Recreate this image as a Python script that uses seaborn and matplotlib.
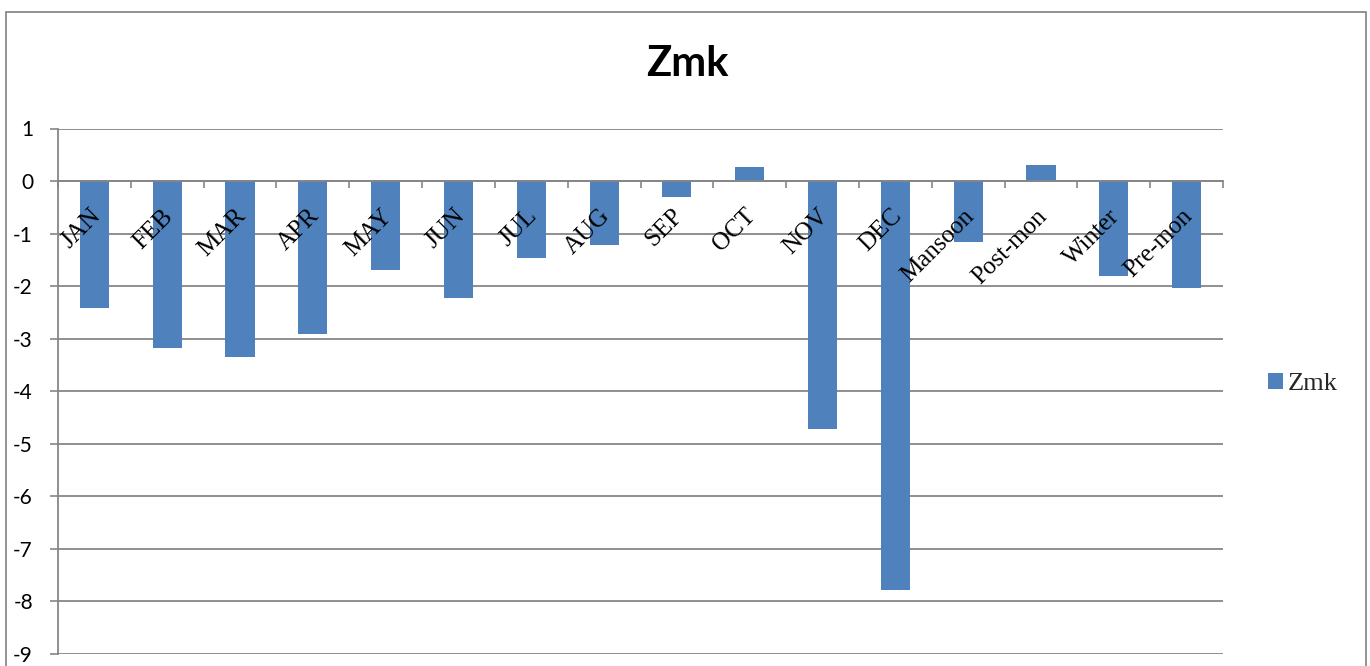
import matplotlib
matplotlib.use("Agg")
import matplotlib.pyplot as plt
from matplotlib.patches import Rectangle
from matplotlib.ticker import FixedLocator
from matplotlib.transforms import offset_copy
import seaborn as sns
import pandas as pd

# Zmk statistic per month and per season
categories = ["JAN", "FEB", "MAR", "APR", "MAY", "JUN", "JUL", "AUG", "SEP",
              "OCT", "NOV", "DEC", "Mansoon", "Post-mon", "Winter", "Pre-mon"]
zmk = [-2.41, -3.17, -3.34, -2.92, -1.70, -2.22, -1.47, -1.22, -0.31,
       0.27, -4.71, -7.78, -1.16, 0.30, -1.81, -2.04]
y_ticks = [1, 0, -1, -2, -3, -4, -5, -6, -7, -8, -9]

BAR = "#4F81BD"
GRID = "#868686"

sns.set_theme(style="white")
plt.rcParams["font.family"] = ["Lato", "DejaVu Sans"]

W, H = 1370, 666
fig = plt.figure(figsize=(W / 100, H / 100), dpi=100)
ax = fig.add_axes([58 / W, 12 / H, 1165 / W, 525.5 / H])

df = pd.DataFrame({"Period": categories, "Zmk": zmk})
sns.barplot(data=df, x="Period", y="Zmk", order=categories, color=BAR,
            saturation=1, width=0.4, label="Zmk", ax=ax, edgecolor="none")

ax.set_xlim(-0.5, len(categories) - 0.5)
ax.set_ylim(min(y_ticks), max(y_ticks))
ax.set_xlabel("")
ax.set_ylabel("")

# horizontal gridlines behind bars
ax.set_axisbelow(True)
ax.yaxis.set_major_locator(FixedLocator(y_ticks))
ax.yaxis.grid(True, color=GRID, linewidth=1.3)
ax.xaxis.grid(False)
ax.set_yticklabels([str(v) for v in y_ticks])
ax.tick_params(axis="y", direction="out", length=6, width=1.2, color=GRID,
               pad=12, labelsize=15, labelcolor="black", left=True)

# category axis sits on the zero line
for side in ("top", "right"):
    ax.spines[side].set_visible(False)
ax.spines["left"].set_color(GRID)
ax.spines["left"].set_linewidth(1.3)
ax.spines["bottom"].set_position(("data", 0))
ax.spines["bottom"].set_color(GRID)
ax.spines["bottom"].set_linewidth(1.3)

bounds = [i - 0.5 for i in range(len(categories) + 1)]
ax.xaxis.set_major_locator(FixedLocator(bounds))
ax.set_xticklabels([""] * len(bounds))
ax.tick_params(axis="x", which="major", direction="out", length=5, width=1.2,
               color=GRID, bottom=True)

# rotated category names, drawn on top of the bars just under the zero line
label_tf = offset_copy(ax.transData, fig=fig, x=-5, y=-24, units="dots")
for i, name in enumerate(categories):
    ax.text(i, 0, name, transform=label_tf, rotation=45, rotation_mode="anchor",
            ha="right", va="top", family="Liberation Serif", fontsize=18,
            color="black", zorder=5)

# chart title
fig.text(687 / W, 1 - 64 / H, "Zmk", ha="center", va="center",
         fontsize=30, fontweight="bold", family="Lato", color="black")

# legend on the right
ax.legend(loc="center left", bbox_to_anchor=(1268 / W, 1 - 384 / H),
          bbox_transform=fig.transFigure, frameon=False,
          prop={"family": "Liberation Serif", "size": 19},
          handlelength=0.55, handleheight=0.55, handletextpad=0.2,
          borderpad=0, borderaxespad=0)

# chart-area border
fig.patches.append(Rectangle((6 / W, -0.05), 1360 / W, (H - 12) / H + 0.05,
                             transform=fig.transFigure, fill=False,
                             edgecolor="#8a8a8a", linewidth=1.3))

fig.savefig("out.png", dpi=100)
